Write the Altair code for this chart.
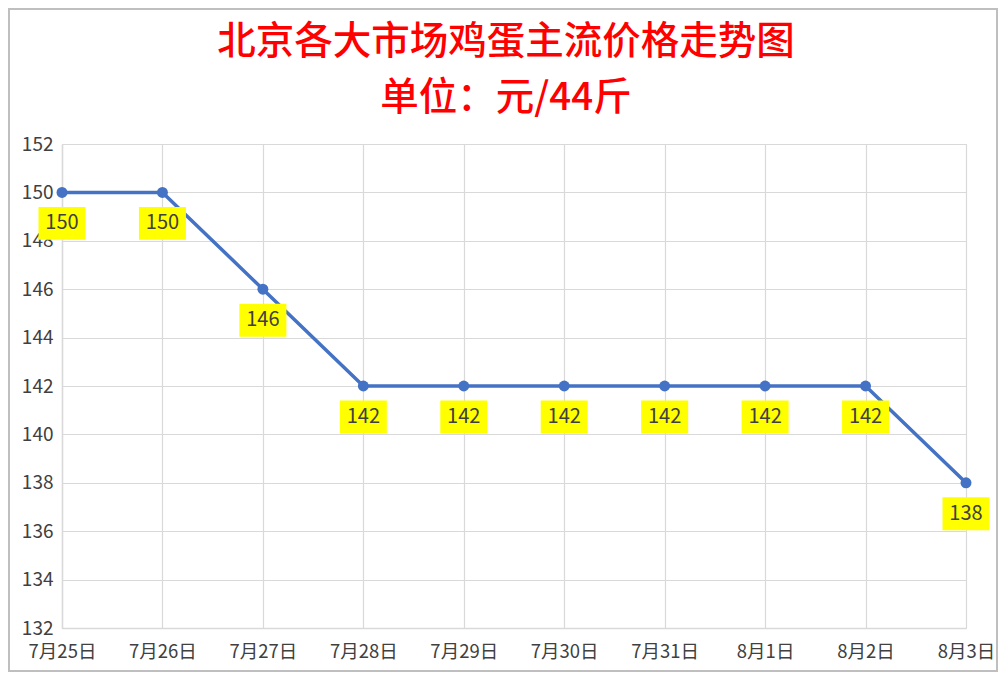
import altair as alt
import pandas as pd

dates = ["7月25日", "7月26日", "7月27日", "7月28日", "7月29日",
         "7月30日", "7月31日", "8月1日", "8月2日", "8月3日"]
prices = [150, 150, 146, 142, 142, 142, 142, 142, 142, 138]
y_ticks = list(range(132, 153, 2))
title_lines = ["北京各大市场鸡蛋主流价格走势图", "单位：元/44斤"]

df = pd.DataFrame({"date": dates, "price": prices})

W, H = 904, 484
FONT = "Noto Sans CJK SC"

x_enc = alt.X("date:N", sort=dates, title=None,
              scale=alt.Scale(type="point", padding=0),
              axis=alt.Axis(labelAngle=0, labelFontSize=18.5, labelColor="#404040",
                            labelFont=FONT, ticks=False, domainColor="#d9d9d9",
                            domainWidth=1.5, gridColor="#d9d9d9", gridWidth=1.2,
                            labelPadding=14, grid=True))
y_enc = alt.Y("price:Q", title=None,
              scale=alt.Scale(domain=[132, 152], nice=False, zero=False),
              axis=alt.Axis(values=y_ticks, labelFontSize=19, labelColor="#404040",
                            labelFont=FONT, ticks=False, domainColor="#d9d9d9",
                            domainWidth=1.5, gridColor="#d9d9d9", gridWidth=1.2,
                            labelPadding=9, grid=True))

base = alt.Chart(df)

line = base.mark_line(color="#4472C4", strokeWidth=3.5).encode(x=x_enc, y=y_enc)
pts = base.mark_point(color="#4472C4", filled=True, opacity=1, size=120).encode(x="date:N", y="price:Q")
boxes = base.mark_point(
    shape="M-1,-0.7H1V0.7H-1Z", filled=True, color="#FFFF00", opacity=1,
    size=47 * 47, yOffset=31
).encode(x="date:N", y="price:Q")
labels = base.mark_text(fontSize=20, color="#404040", font=FONT, yOffset=31,
                        baseline="middle", align="center").encode(
    x="date:N", y="price:Q", text="price:Q")

tdf = pd.DataFrame({"t": [0]})
border = alt.Chart(tdf).mark_rect(
    fill=None, stroke="#bfbfbf", strokeWidth=2
).encode(x=alt.value(-53), x2=alt.value(935), y=alt.value(-135), y2=alt.value(527))

title1 = alt.Chart(tdf).mark_text(
    text=title_lines[0], fontSize=38.5, color="#FF0000", font=FONT,
    align="center", baseline="middle", fontWeight=500
).encode(x=alt.value(444), y=alt.value(-102))
title2 = alt.Chart(tdf).mark_text(
    text=title_lines[1], fontSize=38.5, color="#FF0000", font=FONT,
    align="center", baseline="middle", fontWeight=500
).encode(x=alt.value(444), y=alt.value(-46))

chart = alt.layer(border, line, pts, boxes, labels, title1, title2).properties(
    width=W, height=H,
    autosize=alt.AutoSizeParams(type="none"),
    padding={"left": 54, "top": 136, "right": 32, "bottom": 44},
).configure_view(stroke=None).configure(background="white")

chart.save("out.html", embed_options={"renderer": "svg", "actions": False})
